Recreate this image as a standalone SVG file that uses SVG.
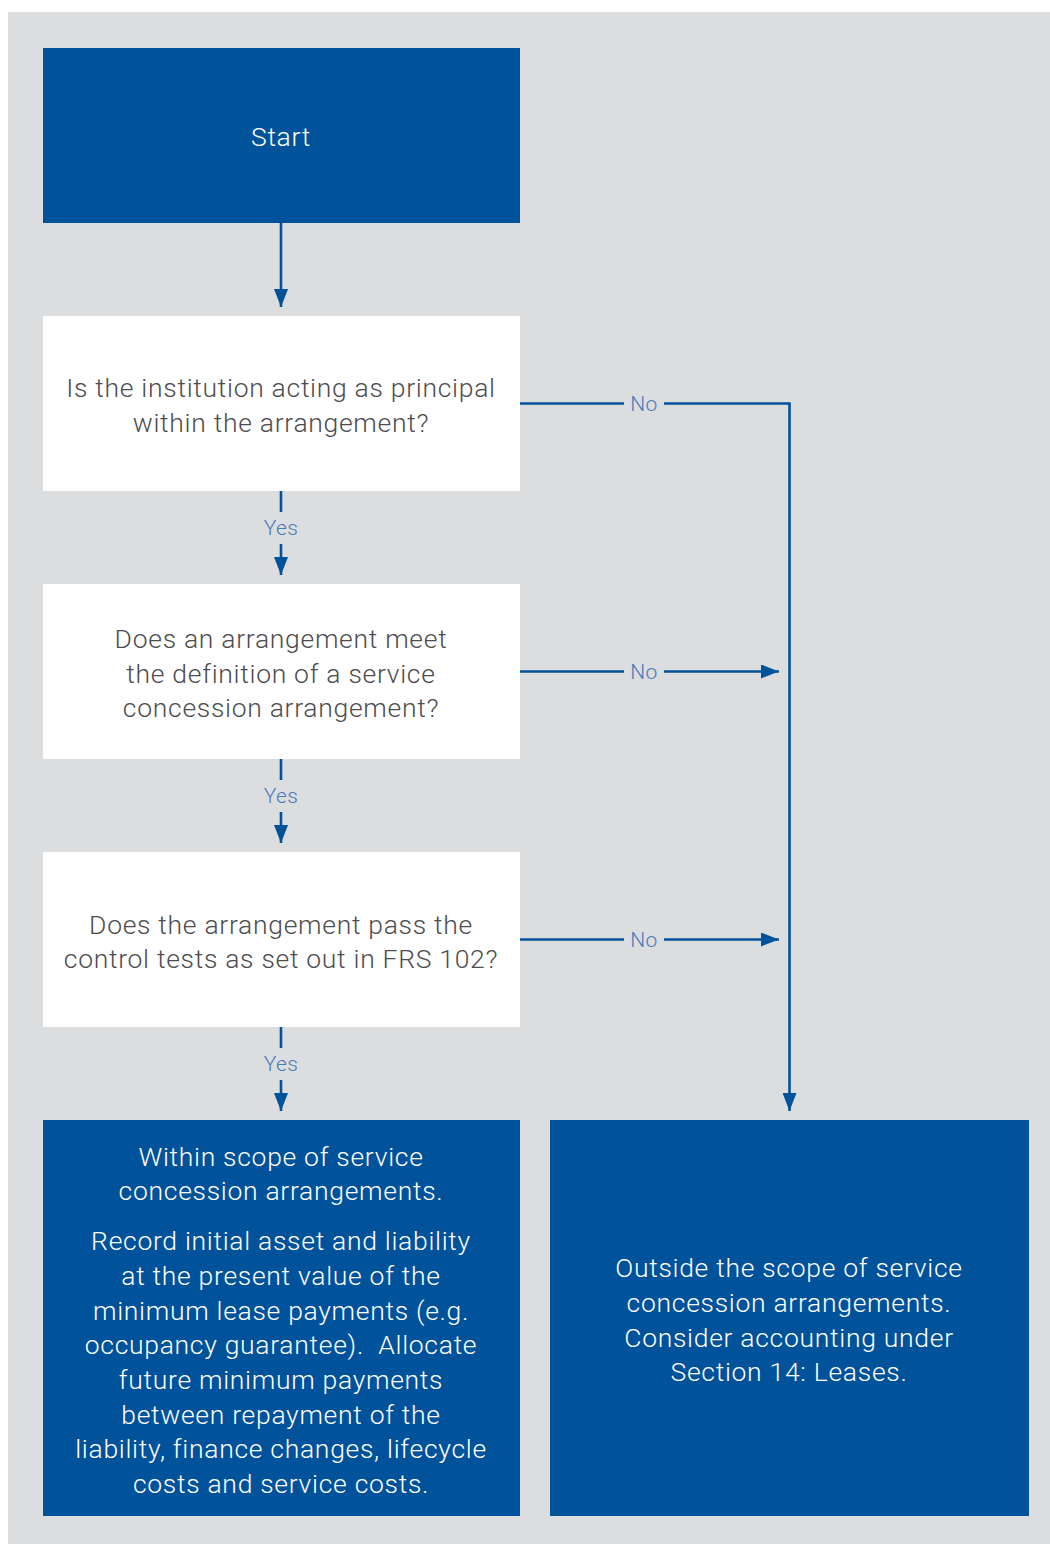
<svg xmlns="http://www.w3.org/2000/svg" width="1050" height="1544" viewBox="0 0 1050 1544">
<defs>
<style>
.dark{fill:#00529b}
.light{fill:#ffffff}
.t{font-family:Roboto,"Liberation Sans",sans-serif;font-weight:300;font-size:26.5px;letter-spacing:0.7px;text-anchor:middle}
.tw{fill:#ffffff}
.tg{fill:#4d4d4f}
.lbl{font-family:Roboto,"Liberation Sans",sans-serif;font-weight:300;font-size:21px;letter-spacing:0.4px;fill:#4a7ab8;text-anchor:middle}
.ln{fill:none;stroke:#00529b;stroke-width:2.6}
</style>
<marker id="ah" markerWidth="18" markerHeight="14" refX="18" refY="7" orient="auto" markerUnits="userSpaceOnUse">
<path d="M0,0 L18,7 L0,14 Z" fill="#00529b"/>
</marker>
</defs>
<rect x="0" y="0" width="1050" height="1544" fill="#ffffff"/>
<rect x="8" y="12" width="1042" height="1532" fill="#dcdddf"/>

<g id="start">
<rect class="dark" x="43" y="48" width="477" height="175"/>
<text class="t tw" x="281" y="146">Start</text>
</g>
<g id="q1">
<rect class="light" x="43" y="316" width="477" height="175"/>
<text class="t tg" x="281" y="397">Is the institution acting as principal</text>
<text class="t tg" x="281" y="432">within the arrangement?</text>
</g>
<g id="q2">
<rect class="light" x="43" y="584" width="477" height="175"/>
<text class="t tg" x="281" y="648">Does an arrangement meet</text>
<text class="t tg" x="281" y="683">the definition of a service</text>
<text class="t tg" x="281" y="717">concession arrangement?</text>
</g>
<g id="q3">
<rect class="light" x="43" y="852" width="477" height="175"/>
<text class="t tg" x="281" y="934">Does the arrangement pass the</text>
<text class="t tg" x="281" y="968">control tests as set out in FRS 102?</text>
</g>
<g id="within">
<rect class="dark" x="43" y="1120" width="477" height="396"/>
<text class="t tw" x="281" y="1166">Within scope of service</text>
<text class="t tw" x="281" y="1200">concession arrangements.</text>
<text class="t tw" x="281" y="1250">Record initial asset and liability</text>
<text class="t tw" x="281" y="1285">at the present value of the</text>
<text class="t tw" x="281" y="1320">minimum lease payments (e.g.</text>
<text class="t tw" x="281" y="1354" xml:space="preserve">occupancy guarantee).  Allocate</text>
<text class="t tw" x="281" y="1389">future minimum payments</text>
<text class="t tw" x="281" y="1424">between repayment of the</text>
<text class="t tw" x="281" y="1458">liability, finance changes, lifecycle</text>
<text class="t tw" x="281" y="1493">costs and service costs.</text>
</g>
<g id="outside">
<rect class="dark" x="550" y="1120" width="479" height="396"/>
<text class="t tw" x="789" y="1277">Outside the scope of service</text>
<text class="t tw" x="789" y="1312">concession arrangements.</text>
<text class="t tw" x="789" y="1347">Consider accounting under</text>
<text class="t tw" x="789" y="1381">Section 14: Leases.</text>
</g>

<g id="connectors">
<path class="ln" d="M281,223 V307" marker-end="url(#ah)"/>
<path class="ln" d="M281,491 V512"/>
<path class="ln" d="M281,544 V575" marker-end="url(#ah)"/>
<text class="lbl" x="281" y="535">Yes</text>
<path class="ln" d="M281,759 V780"/>
<path class="ln" d="M281,812 V843" marker-end="url(#ah)"/>
<text class="lbl" x="281" y="803">Yes</text>
<path class="ln" d="M281,1027 V1048"/>
<path class="ln" d="M281,1080 V1111" marker-end="url(#ah)"/>
<text class="lbl" x="281" y="1071">Yes</text>
<path class="ln" d="M520,403.5 H624"/>
<path class="ln" d="M664,403.5 H789.5 V1111" marker-end="url(#ah)"/>
<text class="lbl" x="644" y="411">No</text>
<path class="ln" d="M520,671.5 H624"/>
<path class="ln" d="M664,671.5 H779" marker-end="url(#ah)"/>
<text class="lbl" x="644" y="679">No</text>
<path class="ln" d="M520,939.5 H624"/>
<path class="ln" d="M664,939.5 H779" marker-end="url(#ah)"/>
<text class="lbl" x="644" y="947">No</text>
</g>
</svg>
